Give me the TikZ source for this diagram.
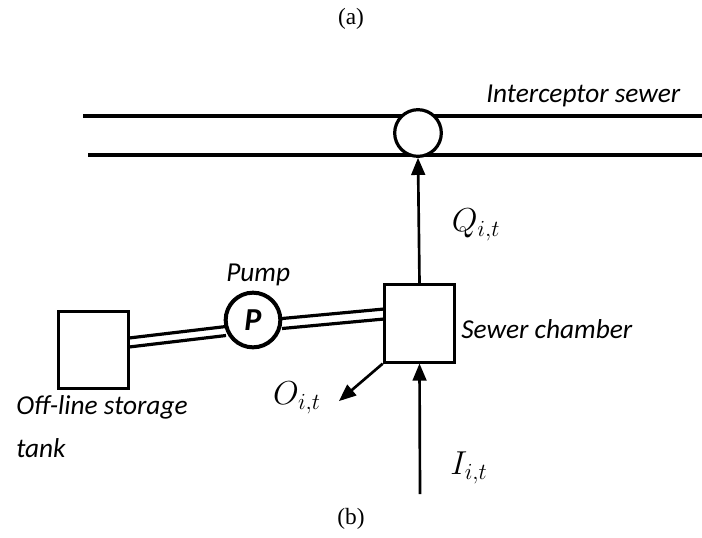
\documentclass[tikz,border=0pt]{standalone}
\usepackage{amsmath, amssymb}
\usepackage{fontspec}
\setmainfont{Liberation Serif}
\newfontfamily\labelfont{Carlito}
\usetikzlibrary{arrows}
\tikzstyle{arrow} = [line width=2pt,->,>=triangle 45]
\tikzstyle{sewer} = [line width=2.4pt]
\tikzstyle{box} = [draw,line width=2.2pt,fill=white,minimum width=53pt,minimum height=58pt,inner sep=0pt]
\tikzstyle{tag} = [font=\labelfont\itshape\fontsize{20.5}{24}\selectfont,inner sep=0pt,anchor=west]
\tikzstyle{flow} = [font=\fontsize{26}{30}\selectfont,inner sep=0pt]
\tikzstyle{caption} = [font=\fontsize{17.5}{20}\selectfont,inner sep=0pt]

\begin{document}
\begin{tikzpicture}[line cap=butt,line join=miter,x=0.75pt,y=-0.75pt]
                \useasboundingbox (0,0) rectangle (702,537);
                \coordinate (sewertop) at (83,116);
                \coordinate (sewertopend) at (702,116);
                \coordinate (sewerlow) at (88,155);
                \coordinate (sewerlowend) at (702,155);
                \coordinate (tankport) at (129,342.5);
                \coordinate (pumpout) at (282,323.5);
                \coordinate (outflow) at (339,401);
                \coordinate (inflow) at (420,494);
                \draw [sewer] (sewertop) -- (sewertopend);
                \draw [sewer] (sewerlow) -- (sewerlowend);
                \draw [line width=2.4pt] (tankport) ++(0,-4.5) -- ++(97,-11.5);
                \draw [line width=2.4pt] (tankport) ++(0,4.5) -- ++(97,-11.5);
                \draw [line width=2.4pt] (pumpout) ++(0,-5) -- ++(102,-9.5);
                \draw [line width=2.4pt] (pumpout) ++(0,5) -- ++(102,-9.5);
                \node [box] (tank) at (93.5,350) {};
                \node [box] (chamber) at (419.5,323.5) {};
                \node [draw,circle,line width=2.4pt,fill=white,minimum size=35pt,inner sep=0pt] (junction) at (418,133) {};
                \node [draw,circle,line width=3pt,fill=white,minimum size=41pt,inner sep=0pt,font=\labelfont\bfseries\itshape\fontsize{24}{28}\selectfont] (pump) at (253,320) {P};
                \draw [arrow] (chamber.north) -- (junction.south);
                \draw [arrow] (inflow) -- (chamber.south);
                \draw [arrow] (chamber.south west) -- (outflow);
                \node [tag] (intercept) at (486,96) {Interceptor sewer};
                \node [tag] (pumplabel) at (226,275) {Pump};
                \node [tag] (chamberlabel) at (461,329) {Sewer chamber};
                \node [tag] (tanklabel) at (16,407) {Off-line storage};
                \node [tag] (tanklabeltwo) at (16,448) {tank};
                \node [flow] (qflow) at (476,225) {$Q_{i,t}$};
                \node [flow] (oflow) at (297,398) {$O_{i,t}$};
                \node [flow] (iflow) at (469,468) {$I_{i,t}$};
                \node [caption] (capa) at (351,19) {(a)};
                \node [caption] (capb) at (351,519) {(b)};
            \end{tikzpicture}
\end{document}
